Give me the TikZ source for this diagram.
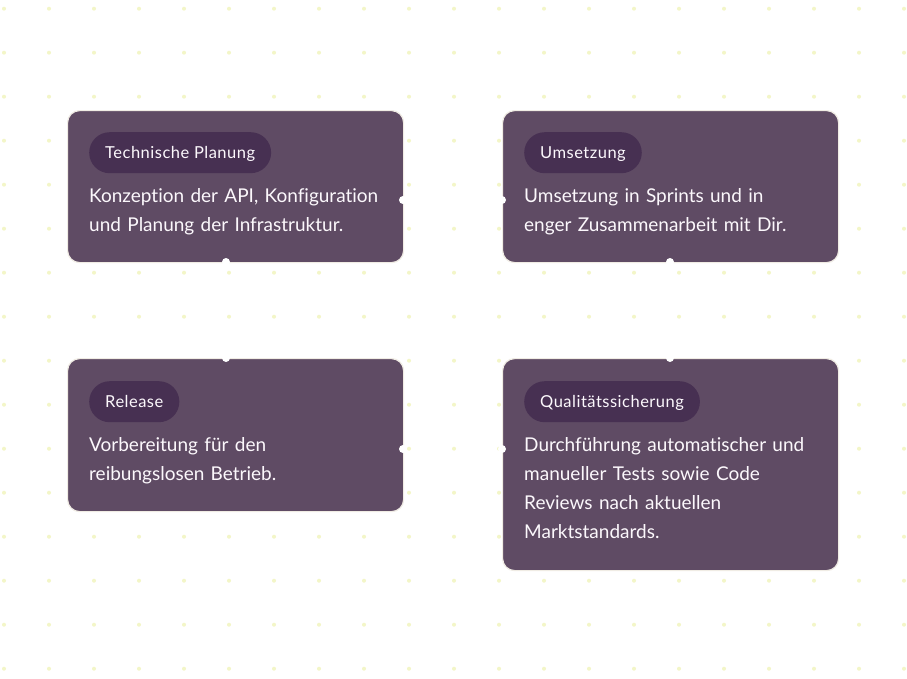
\documentclass[tikz,border=0pt]{standalone}
\usepackage{fontspec}
\setmainfont{Lato}[Ligatures=CommonOff]
\newfontfamily\pillfont{Lato}[Ligatures=CommonOff,LetterSpace=3]
\definecolor{boxfill}{RGB}{95,75,100}
\definecolor{pillfill}{RGB}{71,48,82}
\definecolor{boxborder}{RGB}{240,236,228}
\definecolor{dotcol}{RGB}{243,246,200}
\definecolor{txt}{RGB}{252,248,252}
\begin{document}
\begin{tikzpicture}[x=1pt,y=-1pt,
 card/.style={draw=boxborder, line width=1.2pt, fill=boxfill, rounded corners=12pt, inner sep=0pt, anchor=north west, minimum width=336pt},
 pill/.style={fill=pillfill, rounded corners=20.5pt, minimum height=41pt, inner xsep=16pt, inner ysep=0pt, anchor=north west, text=txt, text height=12pt, text depth=0pt, font=\pillfont\fontsize{16.5}{18}\selectfont},
 body/.style={anchor=base west, inner sep=0pt, text=txt, text width=330pt, align=left, font=\fontsize{19}{29}\selectfont},
 handle/.style={fill=white, circle, inner sep=0pt, minimum size=8pt}]
\useasboundingbox (0,0) rectangle (907,678);
\fill[white] (0,0) rectangle (907,678);
\foreach \i in {0,...,20} \foreach \j in {0,...,15} \fill[dotcol] (4+45*\i, 8.7+44*\j) circle (2pt);

\node[card, minimum height=152pt] (c1) at (67,110) {};
\node[card, minimum height=152pt] (c2) at (502,110) {};
\node[card, minimum height=153pt] (c3) at (67,358) {};
\node[card, minimum height=212pt] (c4) at (502,358) {};

\node[pill] (p1) at (89,132) {Technische Planung};
\node[pill] (p2) at (524,132) {Umsetzung};
\node[pill] (p3) at (89,381) {Release};
\node[pill] (p4) at (524,381) {Qualitätssicherung};

\node[body] (t1) at (89,202) {Konzeption der API, Konfiguration\\und Planung der Infrastruktur.};
\node[body] (t2) at (524,202) {Umsetzung in Sprints und in\\enger Zusammenarbeit mit Dir.};
\node[body] (t3) at (89,451) {Vorbereitung für den\\reibungslosen Betrieb.};
\node[body] (t4) at (524,451) {Durchführung automatischer und\\manueller Tests sowie Code\\Reviews nach aktuellen\\Marktstandards.};

\node[handle] (h1r) at (403,200) {};
\node[handle] (h1b) at (226,262) {};
\node[handle] (h2l) at (502,200) {};
\node[handle] (h2b) at (670,262) {};
\node[handle] (h3t) at (226,358) {};
\node[handle] (h3r) at (403,449) {};
\node[handle] (h4t) at (670,358) {};
\node[handle] (h4l) at (502,449) {};
\end{tikzpicture}
\end{document}
